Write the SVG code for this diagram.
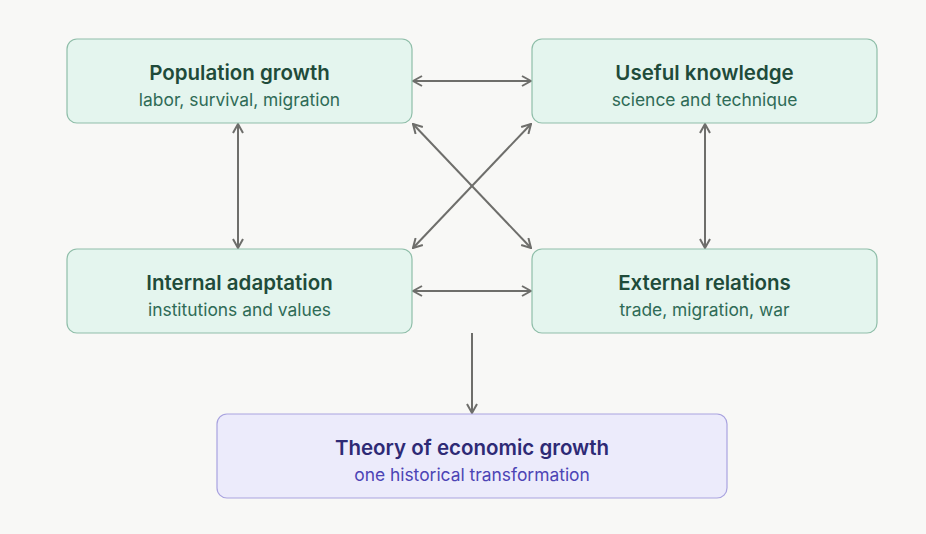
<svg xmlns="http://www.w3.org/2000/svg" width="926" height="534" viewBox="0 0 926 534">
<defs>
<style>
.g rect{fill:#e4f5ee;stroke:#8fbea9;stroke-width:1.2}
.p rect{fill:#ecebfb;stroke:#a9a3df;stroke-width:1.2}
.t{font-family:Inter,"Noto Sans",sans-serif;font-size:20.5px;font-weight:600;text-anchor:middle}
.s{font-family:Inter,"Noto Sans",sans-serif;font-size:17.4px;text-anchor:middle}
.g .t{fill:#1f4b3a}.g .s{fill:#2f6b56}
.p .t{fill:#2e2a75}.p .s{fill:#4c44b5}
#edges line{stroke:#6e6e6b;stroke-width:2;fill:none}
</style>
<marker id="a" viewBox="0 0 12 12" refX="11" refY="6" markerWidth="12" markerHeight="12" markerUnits="userSpaceOnUse" orient="auto-start-reverse">
<path d="M2,1 L11,6 L2,11" fill="none" stroke="#6e6e6b" stroke-width="2"/>
</marker>
</defs>
<rect width="926" height="534" fill="#f8f8f6"/>
<g id="edges">
<line x1="413" y1="81" x2="531" y2="81" marker-start="url(#a)" marker-end="url(#a)"/>
<line x1="238" y1="124" x2="238" y2="248" marker-start="url(#a)" marker-end="url(#a)"/>
<line x1="705" y1="124" x2="705" y2="248" marker-start="url(#a)" marker-end="url(#a)"/>
<line x1="413" y1="124" x2="531" y2="248" marker-start="url(#a)" marker-end="url(#a)"/>
<line x1="531" y1="124" x2="413" y2="248" marker-start="url(#a)" marker-end="url(#a)"/>
<line x1="413" y1="291" x2="531" y2="291" marker-start="url(#a)" marker-end="url(#a)"/>
<line x1="472" y1="333" x2="472" y2="413" marker-end="url(#a)"/>
</g>
<g id="population" class="g">
<rect x="67" y="39" width="345" height="84" rx="10"/>
<text class="t" x="239.5" y="80">Population growth</text>
<text class="s" x="239.5" y="106">labor, survival, migration</text>
</g>
<g id="knowledge" class="g">
<rect x="532" y="39" width="345" height="84" rx="10"/>
<text class="t" x="704.5" y="80">Useful knowledge</text>
<text class="s" x="704.5" y="106">science and technique</text>
</g>
<g id="internal" class="g">
<rect x="67" y="249" width="345" height="84" rx="10"/>
<text class="t" x="239.5" y="290">Internal adaptation</text>
<text class="s" x="239.5" y="316">institutions and values</text>
</g>
<g id="external" class="g">
<rect x="532" y="249" width="345" height="84" rx="10"/>
<text class="t" x="704.5" y="290">External relations</text>
<text class="s" x="704.5" y="316">trade, migration, war</text>
</g>
<g id="theory" class="p">
<rect x="217" y="414" width="510" height="84" rx="10"/>
<text class="t" x="472" y="455">Theory of economic growth</text>
<text class="s" x="472" y="481">one historical transformation</text>
</g>
</svg>
